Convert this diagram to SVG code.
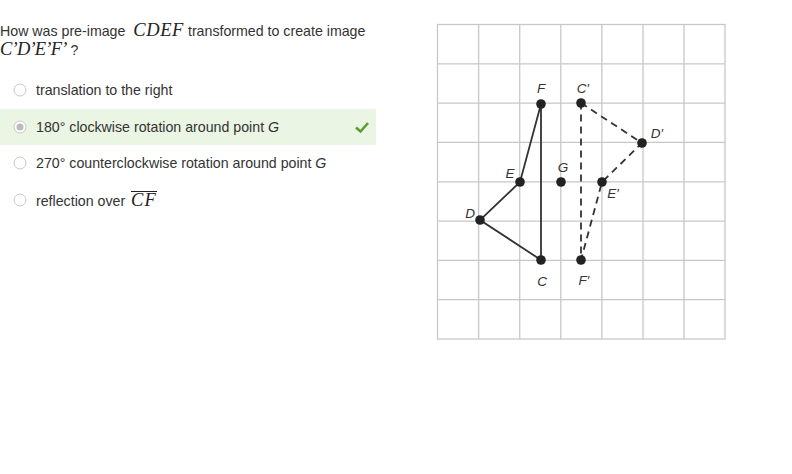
<svg xmlns="http://www.w3.org/2000/svg" width="792" height="474" viewBox="0 0 792 474">
<style>
.t{font-family:"Liberation Sans",Arial,sans-serif;font-size:14.2px;fill:#333}
.m{font-family:"Liberation Serif","Times New Roman",serif;font-style:italic;font-size:18.5px;fill:#222}
.lbl{font-family:"Liberation Sans",Arial,sans-serif;font-style:italic;font-size:13.5px;fill:#333;text-anchor:middle}
.grid{stroke:#c8c8c8;stroke-width:1.3;fill:none}
.radio{fill:#fff;stroke:#c8c8c8;stroke-width:1}
.pt{fill:#222}
.solid{stroke:#333;stroke-width:1.8;fill:none}
.dash{stroke:#333;stroke-width:1.8;fill:none;stroke-dasharray:7,5}
</style>
<rect width="792" height="474" fill="#fff"/>
<g id="question">
<text class="t" x="0" y="36">How was pre-image <tspan class="m" dx="4" letter-spacing="0.6">CDEF</tspan> transformed to create image</text>
<text x="0" y="55"><tspan class="m" font-size="17.5" letter-spacing="-0.8">C’D’E’F’</tspan><tspan class="t"> ?</tspan></text>
</g>
<g id="options">
<rect x="0" y="109" width="376" height="36" fill="#ebf5e4"/>
<g id="opt1"><circle class="radio" cx="20" cy="90" r="6"/><text class="t" x="36" y="95">translation to the right</text></g>
<g id="opt2"><circle class="radio" cx="20" cy="127" r="6"/><circle cx="20" cy="127" r="3.5" fill="#bbb"/><text class="t" x="36" y="132">180° clockwise rotation around point <tspan font-style="italic">G</tspan></text>
<path d="M356 127.5 L360.5 131.5 L368 123" stroke="#5a9e2f" stroke-width="2.6" fill="none"/></g>
<g id="opt3"><circle class="radio" cx="20" cy="163" r="6"/><text class="t" x="36" y="168">270° counterclockwise rotation around point <tspan font-style="italic">G</tspan></text></g>
<g id="opt4"><circle class="radio" cx="20" cy="200" r="6"/><text class="t" x="36" y="206">reflection over <tspan class="m" dx="2" letter-spacing="1">CF</tspan></text><line x1="131" y1="191.5" x2="157" y2="191.5" stroke="#222" stroke-width="1"/></g>
</g>
<g id="grid" class="grid">
<rect x="437.5" y="24.5" width="287.5" height="314.5"/>
<path d="M478.6 24.5V339M519.7 24.5V339M560.8 24.5V339M601.9 24.5V339M643 24.5V339M684 24.5V339"/>
<path d="M437.5 63.8H725M437.5 103.1H725M437.5 142.4H725M437.5 181.8H725M437.5 221.1H725M437.5 260.4H725M437.5 299.7H725"/>
</g>
<g id="connectors">
<polyline class="solid" points="541,104 520,182 480,220 541,260 541,104"/>
<polyline class="dash" points="581,103 642,143 602,182 581,260 581,103"/>
</g>
<g id="F"><circle class="pt" cx="541" cy="104" r="4.8"/><text class="lbl" x="541" y="93">F</text></g>
<g id="E"><circle class="pt" cx="520" cy="182" r="4.8"/><text class="lbl" x="510" y="178">E</text></g>
<g id="D"><circle class="pt" cx="480" cy="220" r="4.8"/><text class="lbl" x="470" y="218">D</text></g>
<g id="C"><circle class="pt" cx="541" cy="260" r="4.8"/><text class="lbl" x="542" y="286">C</text></g>
<g id="G"><circle class="pt" cx="561" cy="182" r="4.8"/><text class="lbl" x="563" y="172">G</text></g>
<g id="C1"><circle class="pt" cx="581" cy="103" r="4.8"/><text class="lbl" x="583" y="93">C′</text></g>
<g id="D1"><circle class="pt" cx="642" cy="143" r="4.8"/><text class="lbl" x="657" y="138">D′</text></g>
<g id="E1"><circle class="pt" cx="602" cy="182" r="4.8"/><text class="lbl" x="613" y="198">E′</text></g>
<g id="F1"><circle class="pt" cx="581" cy="260" r="4.8"/><text class="lbl" x="584" y="285">F′</text></g>
</svg>
